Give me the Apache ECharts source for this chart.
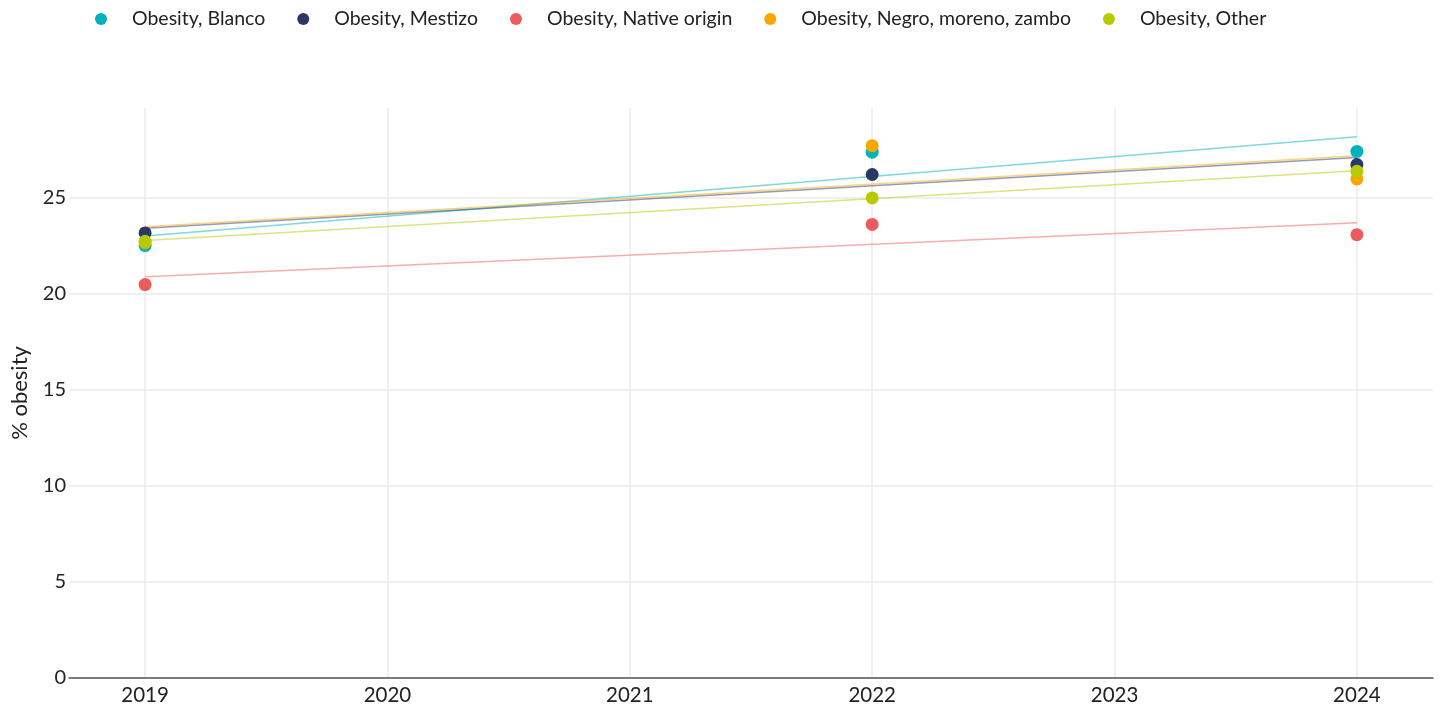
<!DOCTYPE html>
<html><head><meta charset="utf-8">
<script src="https://cdn.jsdelivr.net/npm/echarts@6/dist/echarts.min.js"></script>
<style>html,body{margin:0;padding:0;background:#fff}#c{width:1440px;height:706px}</style>
</head><body><div id="c"></div>
<script>
const years = [2019, 2022, 2024];
const xTicks = [2019, 2020, 2021, 2022, 2023, 2024];
const yTicks = [0, 5, 10, 15, 20, 25];
const names = ['Obesity, Blanco', 'Obesity, Mestizo', 'Obesity, Native origin', 'Obesity, Negro, moreno, zambo', 'Obesity, Other'];
const colors = ['#00b2bb', '#283966', '#eb5d5d', '#f6a800', '#b7cb00'];
const blanco = [22.5, 27.36, 27.4];
const mestizo = [23.16, 26.2, 26.72];
const native = [20.47, 23.6, 23.07];
const negro = [22.65, 27.7, 25.97];
const other = [22.72, 24.98, 26.37];
// trend line endpoints (2019, 2024)
const trendYears = [2019, 2024];
const trendBlanco = [23.0, 28.16];
const trendMestizo = [23.4, 27.08];
const trendNative = [20.88, 23.69];
const trendNegro = [23.48, 27.17];
const trendOther = [22.76, 26.40];

const values = [blanco, mestizo, native, negro, other];
const trends = [trendBlanco, trendMestizo, trendNative, trendNegro, trendOther];
const font = 'Lato';

const series = [];
trends.forEach((t, i) => {
  series.push({
    name: names[i] + ' trend', type: 'line', showSymbol: false, silent: true,
    data: trendYears.map((y, k) => [y, t[k]]),
    lineStyle: { color: colors[i], width: 1.5, opacity: 0.5 },
    itemStyle: { color: colors[i] }, z: 1
  });
});
values.forEach((v, i) => {
  series.push({
    name: names[i], type: 'scatter', symbol: 'circle', symbolSize: 13,
    data: years.map((y, k) => [y, v[k]]),
    itemStyle: { color: colors[i], opacity: 1 }, z: 3
  });
});

const chart = echarts.init(document.getElementById('c'), null, { renderer: 'canvas' });
chart.setOption({
  animation: false,
  backgroundColor: '#fff',
  textStyle: { fontFamily: font },
  legend: {
    data: names.map(n => ({ name: n, icon: 'circle' })),
    left: 90, top: 4, itemWidth: 14, itemHeight: 12, itemGap: 32,
    textStyle: { fontFamily: font, fontSize: 19.5, color: '#222', padding: [0, 0, 0, 19] }
  },
  grid: { left: 69, right: 7, top: 108, bottom: 28, containLabel: false, outerBoundsMode: 'none' },
  xAxis: {
    type: 'value', min: 2018.686, max: 2024.314,
    axisLine: { show: true, lineStyle: { color: '#555', width: 1.5 } },
    axisTick: { show: false, customValues: xTicks },
    axisLabel: { customValues: xTicks, fontFamily: font, fontSize: 20.5, color: '#222', margin: 7, formatter: v => String(v) },
    splitLine: { show: true, lineStyle: { color: '#ebebeb', width: 1.5 } }
  },
  yAxis: {
    type: 'value', min: 0, max: 29.66,
    name: '% obesity', nameLocation: 'middle', nameGap: 38,
    nameTextStyle: { fontFamily: font, fontSize: 22, color: '#222' },
    axisLine: { show: false },
    axisTick: { show: false, customValues: yTicks },
    axisLabel: { customValues: yTicks, fontFamily: font, fontSize: 20, color: '#222', margin: 3, formatter: v => String(v) },
    splitLine: { show: true, lineStyle: { color: '#ebebeb', width: 1.5 } }
  },
  series: series
});
</script></body></html>
